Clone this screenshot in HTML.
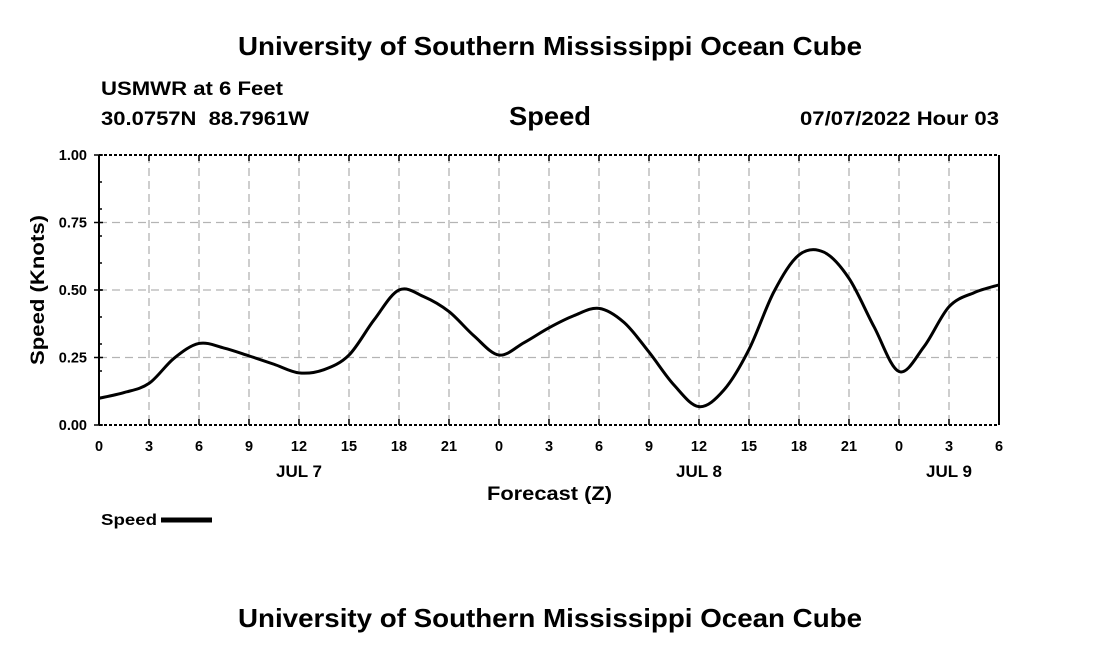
<!DOCTYPE html>
<html><head><meta charset="utf-8"><style>
body{margin:0;background:#fff;}
svg text{font-family:"Liberation Sans",sans-serif;font-weight:bold;fill:#000;}
</style></head><body>
<svg width="1100" height="650" viewBox="0 0 1100 650">
<text x="238" y="55" font-size="26" textLength="624" lengthAdjust="spacingAndGlyphs">University of Southern Mississippi Ocean Cube</text>
<text x="101" y="95" font-size="19" textLength="182" lengthAdjust="spacingAndGlyphs">USMWR at 6 Feet</text>
<text x="101" y="125" font-size="19" textLength="208" lengthAdjust="spacingAndGlyphs" xml:space="preserve">30.0757N  88.7961W</text>
<text x="509" y="125" font-size="26" textLength="82" lengthAdjust="spacingAndGlyphs">Speed</text>
<text x="800" y="125" font-size="19" textLength="199" lengthAdjust="spacingAndGlyphs">07/07/2022 Hour 03</text>
<g id="grid"></g>
<g id="axes"></g>
<path id="line" fill="none" stroke="#000" stroke-width="3"/>
<text x="487" y="500" font-size="19" textLength="125" lengthAdjust="spacingAndGlyphs">Forecast (Z)</text>
<text transform="translate(44,365) rotate(-90)" font-size="19" textLength="150" lengthAdjust="spacingAndGlyphs">Speed (Knots)</text>
<text x="101" y="525" font-size="16" textLength="56" lengthAdjust="spacingAndGlyphs">Speed</text>
<line x1="161" y1="520" x2="212" y2="520" stroke="#000" stroke-width="5"/>
<text x="238" y="627" font-size="26" textLength="624" lengthAdjust="spacingAndGlyphs">University of Southern Mississippi Ocean Cube</text>
</svg>
<script>
const hours=[0,1.5,3,4.5,6,7.5,9,10.5,12,13.5,15,16.5,18,19.5,21,22.5,24,25.5,27,28.5,30,31.5,33,34.5,36,37.5,39,40.5,42,43.5,45,46.5,48,49.5,51,52.5,54];
const speeds=[0.099,0.12,0.154,0.247,0.302,0.285,0.256,0.225,0.193,0.205,0.259,0.389,0.50,0.475,0.42,0.33,0.259,0.305,0.36,0.405,0.432,0.38,0.27,0.148,0.068,0.13,0.28,0.494,0.63,0.64,0.543,0.364,0.198,0.29,0.438,0.49,0.519];
const xTickLabels=["0","3","6","9","12","15","18","21","0","3","6","9","12","15","18","21","0","3","6"];
const yTicks=[0,0.25,0.5,0.75,1.0];
const dayLabels=[{h:12,t:"JUL 7"},{h:36,t:"JUL 8"},{h:51,t:"JUL 9"}];
const X0=99,X1=999,Y0=425,Y1=155,HMAX=54;
const xs=h=>X0+(X1-X0)*h/HMAX, ys=v=>Y0-(Y0-Y1)*v;
const NS="http://www.w3.org/2000/svg";
function mk(tag,attrs,parent){const e=document.createElementNS(NS,tag);for(const k in attrs)e.setAttribute(k,attrs[k]);parent.appendChild(e);return e;}
const grid=document.getElementById('grid'),axes=document.getElementById('axes'),svg=grid.ownerSVGElement;
xTickLabels.forEach((t,i)=>{const x=xs(i*3);
 if(i>0&&i<xTickLabels.length-1){const g=mk('line',{x1:x,x2:x,y1:Y1,y2:Y0,stroke:'#b4b4b4','stroke-width':1.3,'stroke-dasharray':'8,5'},grid);
 
 }
 const tk=mk('line',{x1:x,x2:x,y1:Y1,y2:Y1+6,stroke:'#000','stroke-width':1.5},axes);
 
 
 const tb=mk('line',{x1:x,x2:x,y1:Y0,y2:Y0-6,stroke:'#000','stroke-width':1.5},axes);
 
 
 const l=mk('text',{x:x,y:451,'font-size':14.5,'text-anchor':'middle'},svg);l.textContent=t;
 
 });
dayLabels.forEach(d=>{const l=mk('text',{x:xs(d.h),y:477,'font-size':17,'text-anchor':'middle'},svg);l.textContent=d.t;
 
 });
yTicks.forEach(v=>{const y=ys(v);
 if(v>0&&v<1){const g=mk('line',{x1:X0,x2:X1,y1:y,y2:y,stroke:'#b4b4b4','stroke-width':1.3,'stroke-dasharray':'8,5'},grid);
 
 }
 const l=mk('text',{x:87,y:y+5,'font-size':14.5,'text-anchor':'end'},svg);l.textContent=v.toFixed(2);
 
 
 const tk=mk('line',{x1:X0-5,x2:X0+4,y1:y,y2:y,stroke:'#000','stroke-width':1.5},axes);
 
 });
for(let v=0.1;v<1;v+=0.1){const tk=mk('line',{x1:X0,x2:X0+3,y1:ys(v),y2:ys(v),stroke:'#000','stroke-width':1.5},axes);
 
 }
[[X0,Y1,X1,Y1,'top-border'],[X0,Y0,X1,Y0,'bottom-border']].forEach(a=>{const e=mk('line',{x1:a[0],y1:a[1],x2:a[2],y2:a[3],stroke:'#000','stroke-width':2,'stroke-dasharray':'3,2'},axes);
 
 });
[[X0,'left-axis'],[X1,'right-axis']].forEach(a=>{const e=mk('line',{x1:a[0],y1:Y1,x2:a[0],y2:Y0,stroke:'#000','stroke-width':2},axes);
 
 });
const P=hours.map((h,i)=>[xs(h),ys(speeds[i])]);
let d=`M${P[0][0]},${P[0][1]}`;
for(let i=0;i<P.length-1;i++){const p0=P[i-1]||P[i],p1=P[i],p2=P[i+1],p3=P[i+2]||P[i+1];
 d+=` C${p1[0]+(p2[0]-p0[0])/6},${p1[1]+(p2[1]-p0[1])/6} ${p2[0]-(p3[0]-p1[0])/6},${p2[1]-(p3[1]-p1[1])/6} ${p2[0]},${p2[1]}`;}
document.getElementById('line').setAttribute('d',d);
</script>
</body></html>
